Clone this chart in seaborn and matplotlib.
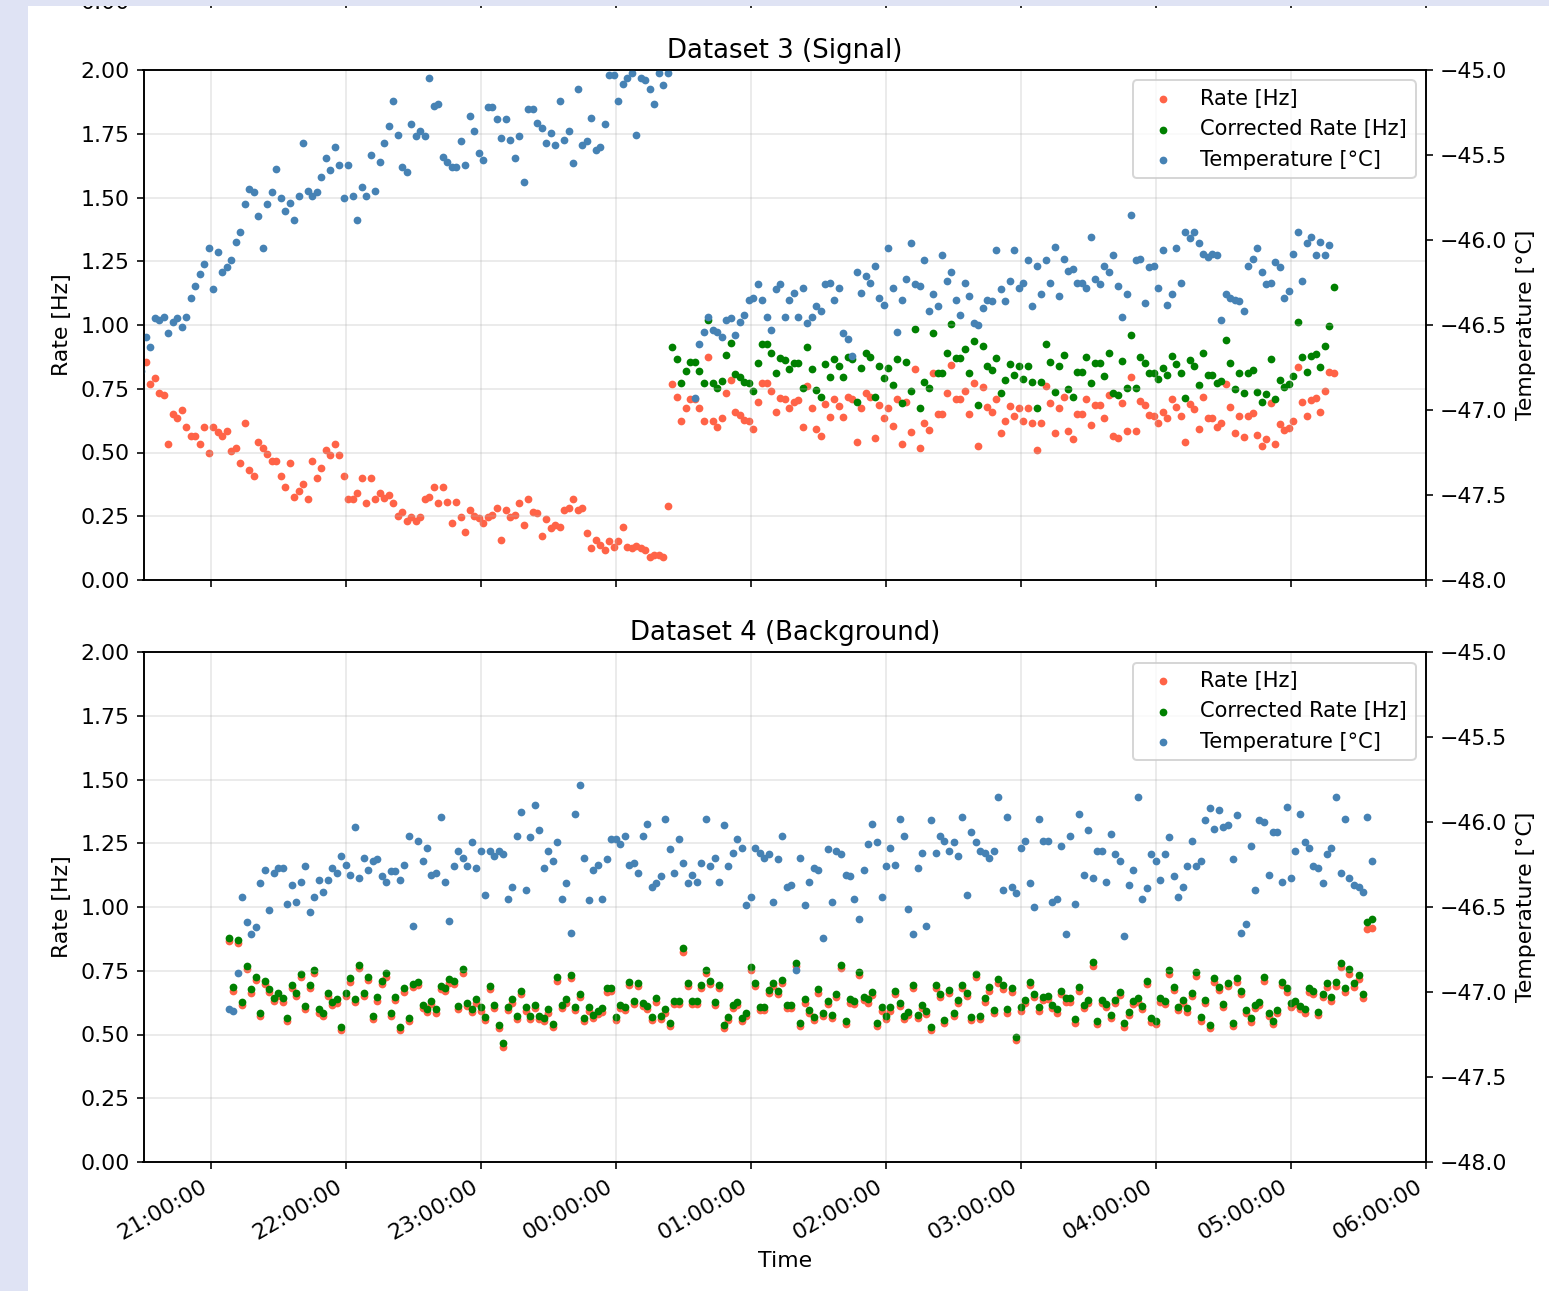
import pandas as pd
import matplotlib
matplotlib.use("Agg")
import matplotlib.pyplot as plt
import matplotlib.dates as mdates
from matplotlib.patches import Rectangle
import seaborn as sns

# ---------------- data (2-minute samples) ----------------
STEP = "2min"

# Dataset 3 (Signal), first run: rate only
sig_rate_a_start = "2024-03-14 20:31"
sig_rate_a = [
    0.856, 0.767, 0.791, 0.735, 0.725, 0.533, 0.651, 0.634, 0.667, 0.600,
    0.566, 0.566, 0.533, 0.600, 0.499, 0.600, 0.582, 0.566, 0.584, 0.507,
    0.516, 0.458, 0.617, 0.431, 0.408, 0.542, 0.519, 0.493, 0.467, 0.467,
    0.408, 0.366, 0.458, 0.324, 0.350, 0.376, 0.316, 0.467, 0.399, 0.441,
    0.510, 0.490, 0.533, 0.491, 0.408, 0.316, 0.316, 0.342, 0.399, 0.301,
    0.399, 0.316, 0.342, 0.320, 0.333, 0.301, 0.251, 0.265, 0.233, 0.248,
    0.233, 0.248, 0.316, 0.324, 0.366, 0.301, 0.366, 0.307, 0.225, 0.307,
    0.248, 0.190, 0.275, 0.251, 0.242, 0.225, 0.248, 0.255, 0.281, 0.157,
    0.275, 0.248, 0.255, 0.301, 0.216, 0.316, 0.267, 0.261, 0.174, 0.241,
    0.205, 0.214, 0.208, 0.275, 0.281, 0.316, 0.275, 0.281, 0.183, 0.124,
    0.157, 0.137, 0.118, 0.153, 0.131, 0.153, 0.207, 0.131, 0.124, 0.133,
    0.124, 0.118, 0.092, 0.098, 0.098, 0.089, 0.291,
]
sig_temp_a_start = "2024-03-14 20:29"
sig_temp_a = [
    -46.77,
    -46.57, -46.63, -46.46, -46.47, -46.45, -46.55, -46.48, -46.46, -46.51, -46.45,
    -46.34, -46.27, -46.20, -46.14, -46.05, -46.29, -46.07, -46.19, -46.16, -46.12,
    -46.01, -45.95, -45.79, -45.70, -45.72, -45.86, -46.05, -45.79, -45.72, -45.58,
    -45.75, -45.83, -45.78, -45.88, -45.74, -45.43, -45.71, -45.74, -45.72, -45.63,
    -45.52, -45.59, -45.45, -45.56, -45.75, -45.56, -45.74, -45.88, -45.69, -45.74,
    -45.50, -45.71, -45.54, -45.43, -45.33, -45.18, -45.38, -45.57, -45.60, -45.32,
    -45.39, -45.36, -45.39, -45.05, -45.21, -45.20, -45.51, -45.54, -45.57, -45.57,
    -45.42, -45.56, -45.27, -45.36, -45.49, -45.53, -45.22, -45.22, -45.29, -45.40,
    -45.29, -45.41, -45.52, -45.39, -45.66, -45.23, -45.23, -45.31, -45.34, -45.43,
    -45.37, -45.44, -45.18, -45.41, -45.36, -45.55, -45.11, -45.44, -45.42, -45.28,
    -45.47, -45.45, -45.32, -45.03, -45.03, -45.18, -45.08, -45.05, -45.02, -45.38,
    -45.05, -45.06, -45.11, -45.20, -45.02, -45.09, -45.02,
]

# Dataset 3 (Signal), second run: rate, corrected rate, temperature
sig_rate_b_start = "2024-03-15 00:25"
sig_rate_b = [
    0.769, 0.719, 0.625, 0.673, 0.708, 0.708, 0.673, 0.625, 0.876, 0.625,
    0.599, 0.634, 0.732, 0.784, 0.660, 0.647, 0.627, 0.625, 0.591, 0.699,
    0.774, 0.774, 0.741, 0.660, 0.715, 0.708, 0.673, 0.699, 0.706, 0.599,
    0.761, 0.673, 0.591, 0.565, 0.690, 0.638, 0.708, 0.682, 0.641, 0.716,
    0.708, 0.542, 0.673, 0.735, 0.719, 0.556, 0.686, 0.634, 0.673, 0.605,
    0.708, 0.533, 0.699, 0.582, 0.826, 0.516, 0.617, 0.588, 0.810, 0.650,
    0.650, 0.735, 0.843, 0.708, 0.708, 0.742, 0.650, 0.774, 0.525, 0.758,
    0.677, 0.660, 0.708,
    0.578, 0.625, 0.682, 0.643, 0.673, 0.625, 0.673, 0.617, 0.510, 0.617,
    0.761, 0.693, 0.575, 0.673, 0.719, 0.586, 0.552, 0.651, 0.651, 0.708,
    0.608, 0.686, 0.686, 0.634, 0.725, 0.565, 0.556, 0.693, 0.586, 0.795,
    0.586, 0.703, 0.686, 0.647, 0.643, 0.617, 0.660, 0.634, 0.708, 0.677,
    0.643, 0.542, 0.690, 0.669, 0.591, 0.719, 0.634, 0.634, 0.601, 0.614,
    0.769, 0.677, 0.575, 0.643, 0.560, 0.643, 0.654, 0.569, 0.525, 0.552,
    0.693, 0.533, 0.612, 0.588, 0.595, 0.625, 0.837, 0.699, 0.643, 0.706,
    0.712, 0.660, 0.742, 0.817, 0.810,
]
sig_corr_b = [
    0.915, 0.865, 0.771, 0.821, 0.856, 0.856, 0.821, 0.774, 1.020, 0.774,
    0.752, 0.782, 0.882, 0.931, 0.808, 0.795, 0.778, 0.774, 0.742, 0.850,
    0.925, 0.925, 0.892, 0.810, 0.869, 0.863, 0.826, 0.850, 0.852, 0.752,
    0.912, 0.826, 0.745, 0.719, 0.847, 0.797, 0.865, 0.839, 0.797, 0.873,
    0.865, 0.699, 0.830, 0.892, 0.873, 0.716, 0.841, 0.791, 0.830, 0.765,
    0.865, 0.693, 0.856, 0.742, 0.984, 0.673, 0.778, 0.752, 0.967, 0.810,
    0.810, 0.892, 1.003, 0.869, 0.869, 0.905, 0.810, 0.939, 0.686, 0.919,
    0.839, 0.824, 0.869,
    0.735, 0.784, 0.847, 0.804, 0.839, 0.787, 0.839, 0.778, 0.673, 0.778,
    0.925, 0.856, 0.739, 0.839, 0.882, 0.748, 0.716, 0.817, 0.817, 0.876,
    0.774, 0.850, 0.850, 0.800, 0.892, 0.735, 0.725, 0.860, 0.752, 0.961,
    0.752, 0.873, 0.852, 0.813, 0.810, 0.787, 0.830, 0.804, 0.878, 0.847,
    0.810, 0.712, 0.863, 0.839, 0.765, 0.889, 0.804, 0.804, 0.771, 0.782,
    0.941, 0.850, 0.748, 0.813, 0.732, 0.813, 0.824, 0.739, 0.699, 0.729,
    0.865, 0.708, 0.784, 0.758, 0.769, 0.800, 1.013, 0.876, 0.817, 0.878,
    0.886, 0.837, 0.918, 0.996, 1.148,
]
sig_temp_b_start = "2024-03-15 00:35"
sig_temp_b = [
    -46.93, -46.61, -46.54, -46.45, -46.53, -46.54, -46.57, -46.47, -46.46, -46.56,
    -46.48, -46.44, -46.35, -46.34, -46.26, -46.35, -46.45, -46.53, -46.29, -46.26,
    -46.45, -46.35, -46.31,
    -46.45, -46.28, -46.49, -46.45, -46.39, -46.42, -46.26, -46.25, -46.35, -46.28,
    -46.55, -46.58, -46.68, -46.19, -46.31, -46.21, -46.25, -46.15, -46.34, -46.38,
    -46.05, -46.28, -46.54, -46.35, -46.23, -46.02, -46.26, -46.27, -46.12, -46.42,
    -46.32, -46.39, -46.09, -46.24, -46.19, -46.35, -46.44, -46.25, -46.33, -46.49,
    -46.50, -46.40, -46.35, -46.36, -46.06,
    -46.29, -46.36, -46.24, -46.06, -46.28, -46.25, -46.12, -46.39, -46.15, -46.32,
    -46.12, -46.25, -46.04, -46.33, -46.11, -46.18, -46.17, -46.25, -46.25, -46.28,
    -45.98, -46.23, -46.26, -46.15, -46.19, -46.09, -46.27, -46.45, -46.32, -45.85,
    -46.12, -46.11, -46.37, -46.16, -46.15, -46.28, -46.06, -46.38, -46.32, -46.05,
    -46.25, -45.95, -45.99, -45.95, -46.02, -46.08, -46.10, -46.08, -46.09, -46.47,
    -46.32, -46.34, -46.35, -46.36, -46.42, -46.15, -46.11, -46.05, -46.19, -46.26,
    -46.25, -46.13, -46.16, -46.34, -46.30, -46.08, -45.95, -46.24, -46.02, -45.98,
    -46.09, -46.01, -46.09, -46.03,
]

# Dataset 4 (Background): rate, corrected rate, temperature
bkg_start = "2024-03-14 21:08"
bkg_rate = [
    0.868, 0.672, 0.860, 0.615, 0.756, 0.664, 0.715, 0.574, 0.698, 0.665,
    0.630, 0.651, 0.629, 0.551, 0.681, 0.652, 0.724, 0.600, 0.682, 0.740,
    0.586, 0.574, 0.651, 0.617, 0.625, 0.519, 0.652, 0.707, 0.626, 0.760,
    0.652, 0.714, 0.561, 0.633, 0.699, 0.727, 0.573, 0.634, 0.518, 0.668,
    0.551, 0.685, 0.694, 0.604, 0.587, 0.620, 0.586, 0.677, 0.669, 0.703,
    0.698, 0.600, 0.743, 0.612, 0.587, 0.625, 0.594, 0.555, 0.677, 0.603,
    0.525, 0.452, 0.595, 0.625, 0.561, 0.659, 0.594, 0.561, 0.603, 0.560,
    0.551, 0.586, 0.529, 0.711, 0.604, 0.625, 0.720, 0.597, 0.646, 0.551,
    0.594, 0.564, 0.580,
    0.590, 0.668, 0.669, 0.555, 0.603, 0.595, 0.694, 0.620, 0.689, 0.610,
    0.599, 0.555, 0.629, 0.561, 0.586, 0.532, 0.620, 0.621, 0.824, 0.690,
    0.620, 0.621, 0.681, 0.740, 0.698, 0.616, 0.681, 0.525, 0.557, 0.603,
    0.616, 0.551, 0.573, 0.752, 0.690, 0.597, 0.596, 0.662, 0.690, 0.659,
    0.701, 0.603, 0.604, 0.769, 0.532, 0.625, 0.584, 0.557, 0.664, 0.574,
    0.620, 0.564, 0.646, 0.760, 0.542, 0.625, 0.620, 0.733, 0.635, 0.625,
    0.655, 0.534, 0.594, 0.561, 0.594, 0.659, 0.612, 0.561, 0.577, 0.681,
    0.564, 0.603, 0.580, 0.519, 0.681, 0.646, 0.545, 0.662, 0.573, 0.622,
    0.681, 0.651, 0.555, 0.724, 0.561, 0.629, 0.672,
    0.583, 0.701, 0.680, 0.586, 0.667, 0.478, 0.594, 0.622, 0.693, 0.646,
    0.594, 0.635, 0.638, 0.603, 0.586, 0.659, 0.629, 0.629, 0.546, 0.671,
    0.603, 0.622, 0.770, 0.541, 0.622, 0.607, 0.563, 0.622, 0.654, 0.531,
    0.577, 0.620, 0.629, 0.599, 0.697, 0.550, 0.541, 0.629, 0.620, 0.738,
    0.674, 0.596, 0.622, 0.590, 0.650, 0.731, 0.554, 0.622, 0.524, 0.705,
    0.674, 0.607, 0.689, 0.533, 0.705, 0.658, 0.583, 0.550, 0.603, 0.616,
    0.709, 0.573, 0.541, 0.583, 0.693, 0.667, 0.609, 0.620, 0.599, 0.586,
    0.667, 0.658, 0.577, 0.646, 0.687, 0.633, 0.692, 0.764, 0.666, 0.739,
    0.687, 0.716, 0.644, 0.912, 0.918,
]
bkg_corr = [
    0.880, 0.685, 0.871, 0.629, 0.769, 0.677, 0.727, 0.586, 0.711, 0.677,
    0.642, 0.664, 0.642, 0.563, 0.694, 0.664, 0.737, 0.612, 0.694, 0.753,
    0.599, 0.586, 0.664, 0.629, 0.638, 0.531, 0.664, 0.720, 0.638, 0.773,
    0.664, 0.727, 0.573, 0.646, 0.711, 0.740, 0.586, 0.646, 0.531, 0.681,
    0.563, 0.698, 0.707, 0.616, 0.599, 0.633, 0.599, 0.690, 0.681, 0.716,
    0.711, 0.612, 0.756, 0.625, 0.599, 0.638, 0.607, 0.567, 0.690, 0.616,
    0.537, 0.465, 0.607, 0.638, 0.573, 0.672, 0.607, 0.573, 0.616, 0.573,
    0.563, 0.599, 0.541, 0.724, 0.616, 0.638, 0.733, 0.609, 0.659, 0.563,
    0.607, 0.576, 0.593,
    0.603, 0.681, 0.681, 0.567, 0.616, 0.607, 0.707, 0.633, 0.701, 0.622,
    0.612, 0.567, 0.642, 0.573, 0.599, 0.544, 0.633, 0.633, 0.838, 0.703,
    0.633, 0.633, 0.694, 0.753, 0.711, 0.629, 0.694, 0.537, 0.570, 0.616,
    0.629, 0.563, 0.586, 0.766, 0.703, 0.609, 0.609, 0.675, 0.703, 0.672,
    0.714, 0.616, 0.616, 0.782, 0.544, 0.638, 0.596, 0.570, 0.677, 0.586,
    0.633, 0.576, 0.659, 0.773, 0.554, 0.638, 0.633, 0.746, 0.648, 0.638,
    0.668, 0.546, 0.607, 0.573, 0.607, 0.672, 0.625, 0.573, 0.590, 0.694,
    0.576, 0.616, 0.593, 0.531, 0.694, 0.659, 0.557, 0.675, 0.586, 0.635,
    0.694, 0.664, 0.567, 0.737, 0.573, 0.642, 0.685,
    0.596, 0.716, 0.694, 0.599, 0.681, 0.492, 0.607, 0.635, 0.707, 0.659,
    0.607, 0.648, 0.651, 0.616, 0.599, 0.672, 0.642, 0.642, 0.559, 0.685,
    0.616, 0.635, 0.786, 0.554, 0.635, 0.620, 0.576, 0.635, 0.668, 0.544,
    0.590, 0.633, 0.642, 0.612, 0.711, 0.563, 0.554, 0.642, 0.633, 0.753,
    0.688, 0.609, 0.635, 0.603, 0.664, 0.746, 0.567, 0.635, 0.537, 0.720,
    0.688, 0.620, 0.703, 0.546, 0.720, 0.672, 0.596, 0.563, 0.616, 0.629,
    0.724, 0.586, 0.554, 0.596, 0.707, 0.681, 0.622, 0.633, 0.612, 0.599,
    0.681, 0.672, 0.590, 0.659, 0.701, 0.646, 0.707, 0.782, 0.681, 0.756,
    0.703, 0.733, 0.659, 0.942, 0.952,
]
bkg_temp = [
    -47.10, -47.11, -46.89, -46.44, -46.59, -46.66, -46.62, -46.36, -46.28, -46.52,
    -46.30, -46.27, -46.27, -46.48, -46.37, -46.47, -46.35, -46.26, -46.53, -46.44,
    -46.34, -46.41, -46.34, -46.27, -46.30, -46.20, -46.25, -46.31, -46.03, -46.33,
    -46.21, -46.28, -46.23, -46.22, -46.32, -46.35, -46.29, -46.29, -46.34, -46.25,
    -46.08, -46.61, -46.11, -46.23, -46.15, -46.31, -46.30, -45.97, -46.35, -46.58,
    -46.26, -46.17, -46.21, -46.26, -46.12, -46.27, -46.17, -46.43, -46.17, -46.20,
    -46.17, -46.19, -46.45, -46.38, -46.08, -45.94, -46.40, -46.09, -45.90, -46.05,
    -46.27, -46.17, -46.23, -46.12, -46.45, -46.36, -46.65, -45.95, -45.78, -46.21,
    -46.46, -46.28, -46.25,
    -46.45, -46.22, -46.10, -46.10, -46.13, -46.08, -46.25, -46.24, -46.30, -46.08,
    -46.01, -46.38, -46.36, -46.32, -45.98, -46.16, -46.30, -46.10, -46.24, -46.36,
    -46.31, -46.35, -46.24, -45.98, -46.26, -46.21, -46.35, -46.02, -46.26, -46.18,
    -46.10, -46.15, -46.49, -46.44, -46.15, -46.18, -46.21, -46.19, -46.47, -46.22,
    -46.08, -46.38, -46.37, -46.87, -46.21, -46.49, -46.35, -46.27, -46.28, -46.68,
    -46.16, -46.47, -46.17, -46.19, -46.31, -46.32, -46.45, -46.57, -46.28, -46.13,
    -46.01, -46.12, -46.44, -46.26, -46.15, -46.25, -45.98, -46.08, -46.51, -46.66,
    -46.27, -46.18, -46.61, -45.99, -46.18, -46.08, -46.11, -46.17, -46.12, -46.20,
    -45.97, -46.43, -46.06, -46.12, -46.17, -46.18, -46.21,
    -46.17, -45.85, -46.40, -45.97, -46.38, -46.42, -46.15, -46.11, -46.36, -46.50,
    -45.98, -46.11, -46.11, -46.47, -46.45, -46.14, -46.66, -46.08, -46.48, -45.95,
    -46.31, -46.05, -46.33, -46.17, -46.17, -46.35, -46.07, -46.19, -46.23, -46.67,
    -46.37, -46.28, -45.85, -46.45, -46.39, -46.19, -46.23, -46.34, -46.19, -46.09,
    -46.32, -46.44, -46.38, -46.26, -46.11, -46.26, -46.23, -45.99, -45.92, -46.04,
    -45.93, -46.03, -46.02, -46.22, -45.96, -46.65, -46.60, -46.14, -46.40, -45.99,
    -46.00, -46.31, -46.06, -46.06, -46.35, -45.91, -46.33, -46.17, -45.95, -46.12,
    -46.15, -46.26, -46.27, -46.36, -46.19, -46.15, -45.85, -46.30, -45.98, -46.33,
    -46.37, -46.38, -46.41, -45.97, -46.23,
]

X_START, X_END = "2024-03-14 20:30", "2024-03-15 06:00"
RATE_LIM = (0, 2)
TEMP_LIM = (-48, -45)

RED, GREEN, BLUE = "tomato", "green", "steelblue"
PAGE_BG = "#dfe3f4"

plt.rcParams["font.size"] = 11
plt.rcParams["legend.fontsize"] = 10.5


def times(start, values):
    return pd.date_range(start, periods=len(values), freq=STEP)


# ---------------- figure ----------------
W, H, DPI = 1549, 1291, 144
fig = plt.figure(figsize=(W / DPI, H / DPI), dpi=DPI, facecolor="white")

left, right = 143.5 / W, 1426 / W
pw = right - left
ax_bot = fig.add_axes([left, 1 - 1162 / H, pw, 510 / H])
ax_top = fig.add_axes([left, 1 - 580 / H, pw, 510 / H], sharex=ax_bot)
# panel above, only its lower edge falls inside the canvas
ax_prev = fig.add_axes([left, 1 - 1 / H, pw, 510 / H], sharex=ax_bot)
ax_prev.set_ylim(*RATE_LIM)
ax_prev.tick_params(labelbottom=False)

DOT = 15


def panel(ax, title, series, temp_series):
    for t, v, c, lab in series:
        sns.scatterplot(x=t, y=v, ax=ax, color=c, s=DOT, linewidth=0,
                        label=lab, legend=False)
    ax.set_ylim(*RATE_LIM)
    ax.set_ylabel("Rate [Hz]")
    ax.set_xlabel("")
    ax.grid(True, alpha=0.3)
    ax.set_title(title, fontsize=13)

    ax2 = ax.twinx()
    for t, v, lab in temp_series:
        sns.scatterplot(x=t, y=v, ax=ax2, color=BLUE, s=DOT, linewidth=0,
                        label=lab, legend=False)
    ax2.set_ylim(*TEMP_LIM)
    ax2.set_ylabel("Temperature [°C]")

    h1, l1 = ax.get_legend_handles_labels()
    h2, l2 = ax2.get_legend_handles_labels()
    keep = {}
    for h, l in zip(h1 + h2, l1 + l2):
        if l and not l.startswith("_") and l not in keep:
            keep[l] = h
    ax2.legend(list(keep.values()), list(keep.keys()), loc="upper right")
    return ax2


sig_rate_t = times(sig_rate_a_start, sig_rate_a).append(times(sig_rate_b_start, sig_rate_b))
sig_rate_v = sig_rate_a + sig_rate_b
sig_temp_t = times(sig_temp_a_start, sig_temp_a).append(times(sig_temp_b_start, sig_temp_b))
sig_temp_v = sig_temp_a + sig_temp_b

panel(
    ax_top, "Dataset 3 (Signal)",
    [(sig_rate_t, sig_rate_v, RED, "Rate [Hz]"),
     (times(sig_rate_b_start, sig_corr_b), sig_corr_b, GREEN, "Corrected Rate [Hz]")],
    [(sig_temp_t, sig_temp_v, "Temperature [°C]")],
)
panel(
    ax_bot, "Dataset 4 (Background)",
    [(times(bkg_start, bkg_rate), bkg_rate, RED, "Rate [Hz]"),
     (times(bkg_start, bkg_corr), bkg_corr, GREEN, "Corrected Rate [Hz]")],
    [(times(bkg_start, bkg_temp), bkg_temp, "Temperature [°C]")],
)

ax_bot.set_xlim(pd.Timestamp(X_START), pd.Timestamp(X_END))
ax_bot.xaxis.set_major_locator(mdates.HourLocator(interval=1))
ax_bot.xaxis.set_major_formatter(mdates.DateFormatter("%H:%M:%S"))
ax_top.tick_params(labelbottom=False)
ax_bot.set_xlabel("Time")
plt.setp(ax_bot.get_xticklabels(), rotation=30, ha="right")

# page background around the figure
fig.add_artist(Rectangle((0, 0), 28 / W, 1, transform=fig.transFigure,
                         facecolor=PAGE_BG, edgecolor="none", zorder=100))
fig.add_artist(Rectangle((0, 1 - 6 / H), 1, 6 / H, transform=fig.transFigure,
                         facecolor=PAGE_BG, edgecolor="none", zorder=100))

fig.savefig("out.png", dpi=DPI, facecolor="white")
